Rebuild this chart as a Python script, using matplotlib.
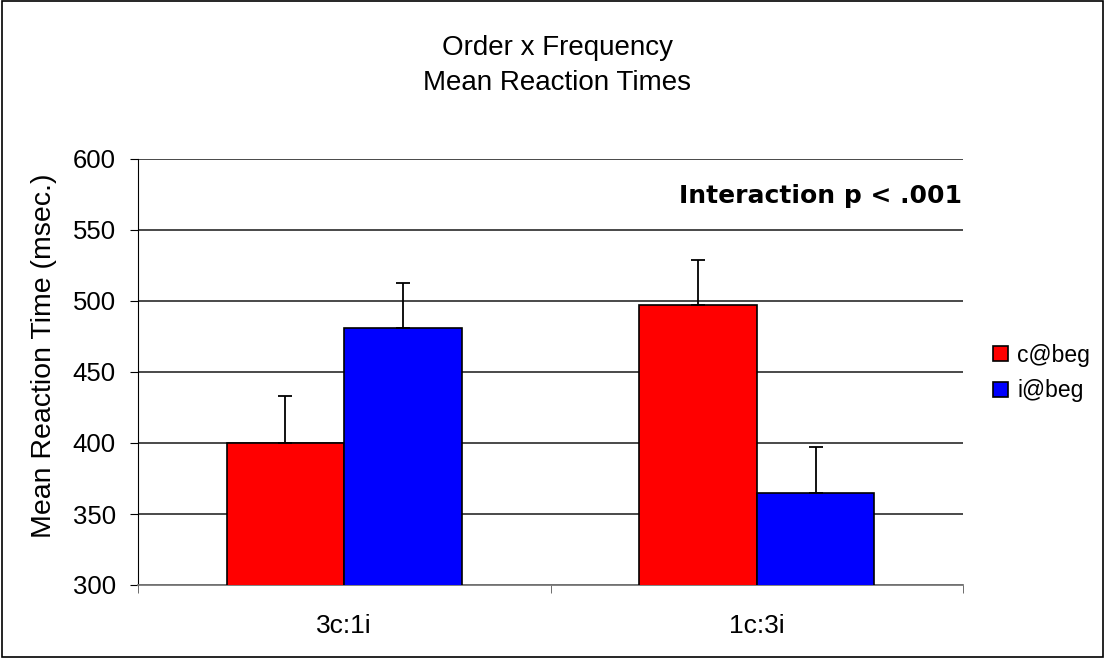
import matplotlib
matplotlib.use("Agg")
import matplotlib.pyplot as plt
import numpy as np

plt.rcParams['font.family'] = ['Liberation Sans', 'DejaVu Sans']

# data
categories = ['3c:1i', '1c:3i']
series = ['c@beg', 'i@beg']
means = {'c@beg': [400, 497], 'i@beg': [481, 365]}
errors = {'c@beg': [33, 32], 'i@beg': [32, 32]}
colors = {'c@beg': '#ff0000', 'i@beg': '#0000ff'}

fig = plt.figure(figsize=(11.05, 6.58), dpi=100)
ax = fig.add_axes([138 / 1105, 1 - 585 / 658, 825 / 1105, 426 / 658])

x = np.arange(len(categories))
w = 0.285
for i, s in enumerate(series):
    pos = x + (i - 0.5) * w
    ax.bar(pos, means[s], width=w, color=colors[s], edgecolor='black', linewidth=1.2,
           label=s, zorder=3)
    ax.errorbar(pos, means[s], yerr=[np.zeros(len(categories)), errors[s]], fmt='none',
                ecolor='black', elinewidth=1.3, capsize=5, capthick=1.3, zorder=4)

ax.set_ylim(300, 600)
ax.set_xlim(-0.5, 1.5)
ax.set_yticks(range(300, 601, 50))
ax.yaxis.grid(True, color='#3a3a3a', linewidth=1.3, zorder=0)
ax.set_xticks(x)
ax.set_xticklabels(categories, fontsize=19)
ax.set_xticks([-0.5, 0.5, 1.5], minor=True)
ax.tick_params(axis='x', which='major', length=0, pad=21)
ax.tick_params(axis='x', which='minor', length=6, color='#555555')
ax.tick_params(axis='y', labelsize=18.5, length=6, pad=10, color='black')
for side in ['top', 'right']:
    ax.spines[side].set_visible(False)
ax.spines['bottom'].set_color('#777777')
ax.spines['bottom'].set_linewidth(1.3)
ax.spines['left'].set_color('black')

fig.text(44 / 1105, 1 - 356 / 658, 'Mean Reaction Time (msec.)', rotation=90,
         ha='center', va='center', fontsize=20.5)

ax.text(0.9985, (585 - 203) / 426, 'Interaction p < .001', transform=ax.transAxes,
        ha='right', va='baseline', fontsize=18, fontweight='bold', family='DejaVu Sans')

fig.text(557 / 1105, 1 - 55 / 658, 'Order x Frequency', ha='center', va='baseline',
         fontsize=20)
fig.text(557 / 1105, 1 - 90 / 658, 'Mean Reaction Times', ha='center', va='baseline',
         fontsize=20)

fig.legend(loc='center left', bbox_to_anchor=(975 / 1105, 1 - 373 / 658), frameon=False,
           fontsize=16.5, handlelength=0.65, handleheight=0.65, handletextpad=0.4,
           labelspacing=0.55, borderpad=0.3)

border = plt.Rectangle((0.002, 0.002), 0.996, 0.996, transform=fig.transFigure,
                       fill=False, edgecolor='black', linewidth=1.2)
fig.patches.append(border)

fig.savefig('out.png', dpi=100)
